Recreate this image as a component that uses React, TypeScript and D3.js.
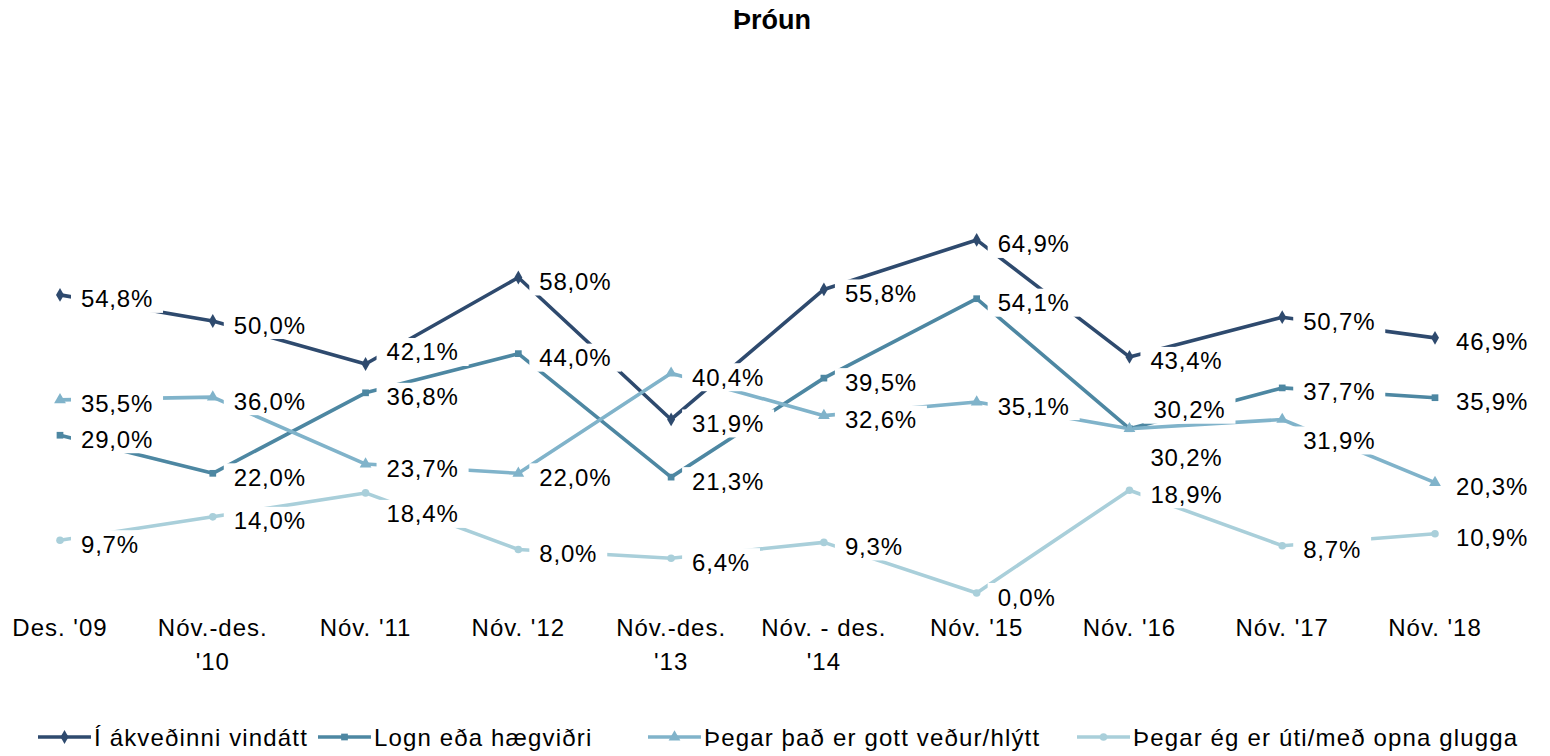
import React from "react";
import * as d3 from "d3";

const title = "Þróun";
const categories = [
  ["Des. '09"],
  ["Nóv.-des.", "'10"],
  ["Nóv. '11"],
  ["Nóv. '12"],
  ["Nóv.-des.", "'13"],
  ["Nóv. - des.", "'14"],
  ["Nóv. '15"],
  ["Nóv. '16"],
  ["Nóv. '17"],
  ["Nóv. '18"],
];
const seriesNames = [
  "Í ákveðinni vindátt",
  "Logn eða hægviðri",
  "Þegar það er gott veður/hlýtt",
  "Þegar ég er úti/með opna glugga",
];
const vindatt = [54.8, 50.0, 42.1, 58.0, 31.9, 55.8, 64.9, 43.4, 50.7, 46.9];
const logn = [29.0, 22.0, 36.8, 44.0, 21.3, 39.5, 54.1, 30.2, 37.7, 35.9];
const gottVedur = [35.5, 36.0, 23.7, 22.0, 40.4, 32.6, 35.1, 30.2, 31.9, 20.3];
const uti = [9.7, 14.0, 18.4, 8.0, 6.4, 9.3, 0.0, 18.9, 8.7, 10.9];
const seriesValues = [vindatt, logn, gottVedur, uti];

// styling / layout (not data)
const colors = ["#2e4a6e", "#4d87a2", "#80b3ca", "#a9cfda"];
const symbols = [d3.symbolDiamond, d3.symbolSquare, d3.symbolTriangle, d3.symbolCircle];
const symbolSizes = [55, 45, 60, 45];
const labelNudges: { s: number; i: number; dx: number; dy: number }[] = [
  { s: 0, i: 2, dx: 0, dy: -16 },
  { s: 1, i: 7, dx: 3, dy: -23 },
  { s: 2, i: 7, dx: 0, dy: 25 },
  { s: 2, i: 8, dx: 0, dy: 17 },
  { s: 3, i: 2, dx: 0, dy: 17 },
];
const legendX = [38, 318, 648, 1077];

const FONT = "'Liberation Sans', Arial, sans-serif";

const fmt = (v: number) => v.toFixed(1).replace(".", ",") + "%";

export default function App() {
  const W = 1550;
  const H = 756;
  const x = d3
    .scalePoint<number>()
    .domain(categories.map((_, i) => i))
    .range([60, 1435]);
  const y = d3.scaleLinear().domain([0, 70]).range([593, 593 - 70 * 5.44]);

  const line = d3
    .line<number>()
    .x((_, i) => x(i) as number)
    .y((d) => y(d));

  const labelFont = 24;
  const labelSpacing = 0.8;
  const measure = (t: string) => {
    let w = 0;
    for (const c of t) {
      if (c === ",") w += 0.278;
      else if (c === "%") w += 0.889;
      else w += 0.556;
    }
    return w * labelFont + labelSpacing * t.length;
  };

  const labels: { x: number; y: number; text: string }[] = [];
  seriesValues.forEach((vals, s) => {
    vals.forEach((v, i) => {
      const n = labelNudges.find((q) => q.s === s && q.i === i);
      labels.push({
        x: (x(i) as number) + 21 + (n ? n.dx : 0),
        y: y(v) + 4 + (n ? n.dy : 0),
        text: fmt(v),
      });
    });
  });

  return (
    <svg
      width={W}
      height={H}
      style={{ position: "absolute", left: 0, top: 0, background: "#fff" }}
      fontFamily={FONT}
    >
      <rect width={W} height={H} fill="#fff" />
      <text x={772} y={29} textAnchor="middle" fontSize={27} fontWeight="bold" fill="#000">
        {title}
      </text>

      {seriesValues.map((vals, s) => (
        <path
          key={"l" + s}
          d={line(vals) || ""}
          fill="none"
          stroke={colors[s]}
          strokeWidth={3.6}
          strokeLinejoin="round"
        />
      ))}
      {seriesValues.map((vals, s) =>
        vals.map((v, i) => (
          <path
            key={"m" + s + "-" + i}
            d={d3.symbol().type(symbols[s]).size(symbolSizes[s])() || ""}
            transform={`translate(${x(i)},${y(v)})`}
            fill={colors[s]}
          />
        ))
      )}

      {labels.map((l, k) => {
        const w = measure(l.text);
        return (
          <g key={"t" + k}>
            <rect x={l.x - 10} y={l.y - 14} width={w + 20} height={28} fill="#fff" />
            <text
              x={l.x}
              y={l.y}
              dominantBaseline="central"
              fontSize={labelFont}
              letterSpacing={labelSpacing}
              fill="#000"
            >
              {l.text}
            </text>
          </g>
        );
      })}

      {categories.map((lines, i) => (
        <text
          key={"c" + i}
          x={x(i)}
          y={636}
          textAnchor="middle"
          fontSize={24}
          letterSpacing={1}
          fill="#000"
        >
          {lines.map((t, j) => (
            <tspan key={j} x={x(i)} dy={j === 0 ? 0 : 34}>
              {t}
            </tspan>
          ))}
        </text>
      ))}

      {seriesNames.map((name, s) => {
        const lx = legendX[s];
        const cy = 737;
        return (
          <g key={"lg" + s}>
            <line x1={lx} x2={lx + 53} y1={cy} y2={cy} stroke={colors[s]} strokeWidth={3.6} />
            <path
              d={d3.symbol().type(symbols[s]).size(symbolSizes[s])() || ""}
              transform={`translate(${lx + 26.5},${cy})`}
              fill={colors[s]}
            />
            <text
              x={lx + 56}
              y={cy}
              dominantBaseline="central"
              fontSize={24}
              letterSpacing={1.15}
              fill="#000"
            >
              {name}
            </text>
          </g>
        );
      })}
    </svg>
  );
}
